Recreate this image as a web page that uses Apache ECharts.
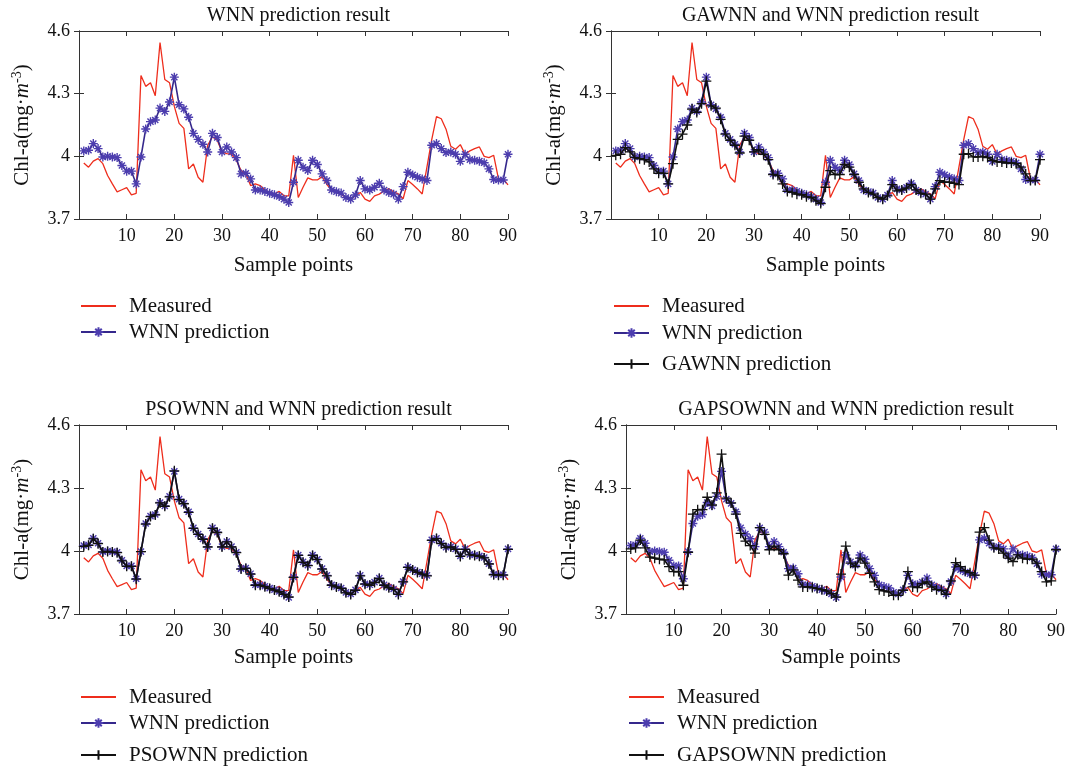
<!DOCTYPE html>
<html>
<head>
<meta charset="utf-8">
<script src="https://cdn.jsdelivr.net/npm/echarts@6/dist/echarts.min.js"></script>
<style>
html,body{margin:0;padding:0;background:#fff;}
#c{width:1068px;height:771px;}
</style>
</head>
<body>
<div id="c"></div>
<script>
// ---- data ----
const samplePoints = Array.from({length: 90}, (_, k) => k + 1);
const xTicks = [0, 10, 20, 30, 40, 50, 60, 70, 80, 90];
const yTicks = [3.7, 4.0, 4.3, 4.6];

const measured = [
 3.968,3.948,3.977,3.989,3.965,3.908,3.868,3.830,3.840,3.850,
 3.816,3.823,4.387,4.335,4.352,4.290,4.545,4.368,4.352,4.239,
 4.158,4.134,3.940,3.963,3.900,3.876,4.053,4.094,4.077,4.021,
 4.013,4.010,3.981,3.932,3.916,3.860,3.868,3.860,3.839,3.827,
 3.819,3.832,3.811,3.811,4.005,3.803,3.852,3.897,3.887,3.887,
 3.903,3.865,3.839,3.827,3.819,3.803,3.795,3.811,3.827,3.795,
 3.784,3.811,3.819,3.835,3.845,3.830,3.820,3.797,3.884,3.865,
 3.844,3.820,3.950,4.080,4.190,4.180,4.130,4.048,4.034,4.056,
 4.010,4.026,4.037,4.045,4.000,3.994,4.005,3.892,3.892,3.863
];
const wnn = [
 4.026,4.029,4.061,4.037,3.997,4.000,3.997,3.994,3.956,3.929,
 3.929,3.868,3.997,4.131,4.166,4.174,4.231,4.215,4.260,4.379,
 4.247,4.227,4.187,4.110,4.081,4.058,4.021,4.110,4.090,4.021,
 4.045,4.021,3.994,3.916,3.919,3.892,3.839,3.839,3.832,3.823,
 3.816,3.808,3.795,3.779,3.876,3.981,3.948,3.932,3.981,3.961,
 3.916,3.884,3.839,3.831,3.824,3.803,3.795,3.815,3.884,3.844,
 3.839,3.852,3.871,3.839,3.827,3.819,3.795,3.855,3.924,3.911,
 3.900,3.892,3.884,4.053,4.061,4.037,4.018,4.021,4.010,3.976,
 4.010,3.984,3.981,3.977,3.969,3.940,3.889,3.887,3.887,4.010
];
const gawnn = [
 4.005,4.010,4.042,4.021,3.994,3.989,3.984,3.973,3.940,3.919,
 3.919,3.868,3.965,4.081,4.106,4.150,4.226,4.210,4.252,4.360,
 4.242,4.231,4.177,4.106,4.077,4.053,4.016,4.097,4.077,4.021,
 4.032,4.010,3.984,3.913,3.908,3.868,3.832,3.827,3.819,3.816,
 3.806,3.803,3.787,3.774,3.852,3.932,3.913,3.913,3.961,3.948,
 3.913,3.876,3.844,3.827,3.819,3.803,3.795,3.811,3.865,3.835,
 3.839,3.848,3.865,3.839,3.823,3.819,3.795,3.844,3.884,3.876,
 3.876,3.871,3.865,4.010,4.013,3.997,3.997,4.000,3.994,3.981,
 3.973,3.973,3.968,3.968,3.965,3.948,3.916,3.884,3.884,3.984
];
const psownn = [
 4.022,4.027,4.058,4.035,3.995,3.998,3.995,3.992,3.953,3.927,
 3.927,3.866,3.997,4.128,4.164,4.172,4.229,4.213,4.258,4.382,
 4.245,4.225,4.184,4.108,4.079,4.056,4.019,4.108,4.088,4.019,
 4.043,4.019,3.992,3.914,3.917,3.890,3.837,3.837,3.830,3.821,
 3.814,3.806,3.793,3.781,3.874,3.979,3.946,3.930,3.979,3.959,
 3.914,3.882,3.837,3.829,3.822,3.801,3.793,3.813,3.882,3.842,
 3.837,3.850,3.869,3.837,3.825,3.817,3.793,3.853,3.922,3.909,
 3.898,3.890,3.882,4.051,4.059,4.035,4.016,4.019,4.008,3.974,
 4.008,3.982,3.979,3.975,3.967,3.938,3.887,3.885,3.885,4.008
];
const gapsownn = [
 4.010,4.015,4.052,4.015,3.971,3.966,3.961,3.958,3.926,3.902,
 3.902,3.837,3.994,4.176,4.197,4.197,4.256,4.219,4.277,4.461,
 4.252,4.229,4.176,4.084,4.047,4.026,3.990,4.111,4.079,4.006,
 4.023,4.006,3.987,3.885,3.910,3.861,3.829,3.829,3.826,3.821,
 3.816,3.810,3.797,3.781,3.890,4.023,3.942,3.926,3.966,3.942,
 3.894,3.853,3.816,3.810,3.805,3.789,3.789,3.813,3.902,3.829,
 3.826,3.845,3.853,3.829,3.816,3.813,3.794,3.858,3.945,3.926,
 3.906,3.897,3.885,4.090,4.111,4.052,4.015,4.010,3.990,3.966,
 3.950,3.982,3.966,3.961,3.961,3.942,3.902,3.853,3.858,4.006
];

const titles = [
 'WNN prediction result',
 'GAWNN and WNN prediction result',
 'PSOWNN and WNN prediction result',
 'GAPSOWNN and WNN prediction result'
];
const panelSeries = [
 [['Measured', measured], ['WNN prediction', wnn]],
 [['Measured', measured], ['WNN prediction', wnn], ['GAWNN prediction', gawnn]],
 [['Measured', measured], ['WNN prediction', wnn], ['PSOWNN prediction', psownn]],
 [['Measured', measured], ['WNN prediction', wnn], ['GAPSOWNN prediction', gapsownn]]
];

// ---- layout / style ----
const FONT = 'Liberation Serif';
const grids = [
 {left: 79, top: 31, width: 429, height: 188},
 {left: 611, top: 31, width: 429, height: 188},
 {left: 79, top: 425, width: 429, height: 189},
 {left: 626, top: 425, width: 430, height: 189}
];
const titleTops = [1, 1, 395, 395];
const xNameGaps = [36, 36, 33, 33];
const legendRows = [
 [306, 332],
 [306, 333, 364],
 [697, 723, 755],
 [697, 723, 755]
];
const legendLeft = [80, 613, 80, 628];

const RED = '#ee2d1c', BLUE = '#35288c', BLACK = '#111111';
const STAR = 'path://M5 0 L5 10 M0 5 L10 5 M1.6 1.6 L8.4 8.4 M1.6 8.4 L8.4 1.6';
const PLUS = 'path://M5 0 L5 10 M0 5 L10 5';

function styleFor(name) {
  if (name === 'Measured') {
    return {symbol: 'none', lineStyle: {color: RED, width: 1.3}, itemStyle: {color: RED}, z: 2};
  }
  if (name === 'WNN prediction') {
    return {symbol: STAR, symbolSize: 9, lineStyle: {color: BLUE, width: 1.6},
            itemStyle: {color: 'rgba(0,0,0,0)', borderColor: '#4c3dae', borderWidth: 1.4}, z: 3};
  }
  return {symbol: PLUS, symbolSize: 10, lineStyle: {color: BLACK, width: 1.6},
          itemStyle: {color: 'rgba(0,0,0,0)', borderColor: BLACK, borderWidth: 1.3}, z: 4};
}

const xAxis = [], yAxis = [], series = [], title = [], legend = [];
const axisLineStyle = {lineStyle: {color: '#333', width: 1}};
const labelStyle = {fontFamily: FONT, fontSize: 18, color: '#111'};

grids.forEach((g, gi) => {
  title.push({
    text: titles[gi], left: g.left + g.width / 2, top: titleTops[gi], textAlign: 'center',
    textStyle: {fontFamily: FONT, fontSize: 20, fontWeight: 'normal', color: '#111'}
  });
  xAxis.push({
    gridIndex: gi, type: 'value', min: xTicks[0], max: xTicks[xTicks.length - 1], interval: 10,
    position: 'bottom', splitLine: {show: false},
    axisLine: axisLineStyle, axisTick: {inside: true, length: 5, lineStyle: {color: '#333'}},
    axisLabel: Object.assign({margin: 8, formatter: v => (v === 0 ? '' : String(v))}, labelStyle),
    name: 'Sample points', nameLocation: 'middle', nameGap: xNameGaps[gi],
    nameTextStyle: {fontFamily: FONT, fontSize: 21, color: '#111'}
  });
  xAxis.push({
    gridIndex: gi, type: 'value', min: xTicks[0], max: xTicks[xTicks.length - 1], interval: 10,
    position: 'top', splitLine: {show: false},
    axisLine: axisLineStyle, axisTick: {inside: true, length: 5, lineStyle: {color: '#333'}},
    axisLabel: {show: false}
  });
  yAxis.push({
    gridIndex: gi, type: 'value', min: yTicks[0], max: yTicks[yTicks.length - 1], interval: 0.3,
    position: 'left', splitLine: {show: false},
    axisLine: axisLineStyle, axisTick: {inside: true, length: 5, lineStyle: {color: '#333'}},
    axisLabel: Object.assign({margin: 9, formatter: v => String(Math.round(v * 10) / 10)}, labelStyle),
    name: '{a|Chl-a(mg·}{i|m}{s|-3}{a|)}', nameLocation: 'middle', nameGap: 44, nameRotate: 90,
    nameTextStyle: {
      fontFamily: FONT, fontSize: 21, color: '#111',
      rich: {
        a: {fontFamily: FONT, fontSize: 21, color: '#111', lineHeight: 25},
        i: {fontFamily: FONT, fontSize: 21, fontStyle: 'italic', color: '#111', lineHeight: 25},
        s: {fontFamily: FONT, fontSize: 14, color: '#111', verticalAlign: 'top', lineHeight: 14}
      }
    }
  });
  yAxis.push({
    gridIndex: gi, type: 'value', min: yTicks[0], max: yTicks[yTicks.length - 1], interval: 0.3,
    position: 'right', splitLine: {show: false},
    axisLine: axisLineStyle, axisTick: {inside: true, length: 5, lineStyle: {color: '#333'}},
    axisLabel: {show: false}
  });
  panelSeries[gi].forEach(([name, arr]) => {
    series.push(Object.assign({
      type: 'line', name: name, xAxisIndex: gi * 2, yAxisIndex: gi * 2,
      data: samplePoints.map((x, k) => [x, arr[k]]),
      showAllSymbol: true, animation: false, silent: true
    }, styleFor(name)));
  });
  panelSeries[gi].forEach(([name], li) => {
    const lg = {
      data: [name], left: legendLeft[gi], top: legendRows[gi][li] - 11,
      orient: 'vertical', itemWidth: 35, itemHeight: 12, itemGap: 0, selectedMode: false,
      padding: 0,
      textStyle: {fontFamily: FONT, fontSize: 21, color: '#111', padding: [0, 0, 0, 8], lineHeight: 22}
    };
    if (name === 'Measured') {
      lg.itemStyle = {color: 'rgba(0,0,0,0)', borderWidth: 0, opacity: 0};
    }
    legend.push(lg);
  });
});

const chart = echarts.init(document.getElementById('c'), null, {renderer: 'canvas'});
chart.setOption({
  backgroundColor: '#fff',
  animation: false,
  title: title,
  legend: legend,
  grid: grids.map(g => Object.assign({outerBoundsMode: 'none', containLabel: false}, g)),
  xAxis: xAxis,
  yAxis: yAxis,
  series: series
});
</script>
</body>
</html>
